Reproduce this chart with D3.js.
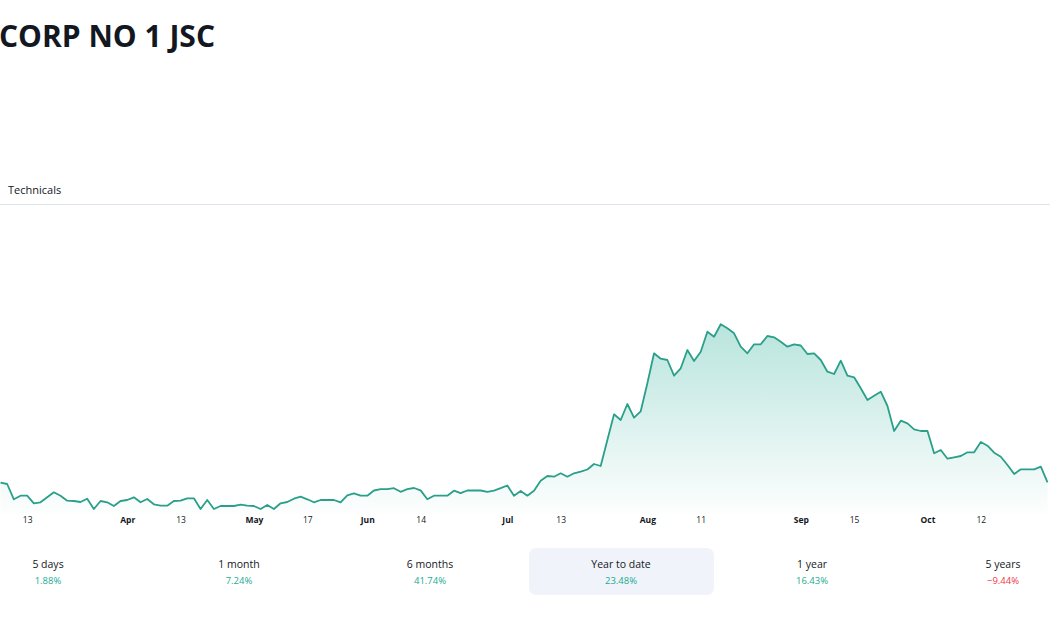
<!DOCTYPE html>
<html>
<head>
<meta charset="utf-8">
<script src="https://cdn.jsdelivr.net/npm/d3@7"></script>
<style>
  html, body { margin: 0; padding: 0; background: #ffffff; }
  svg { display: block; }
</style>
</head>
<body>
<svg id="chart" width="1050" height="630"></svg>
<script>
// ---- data ----
const title = "CORP NO 1 JSC";
const tabLabel = "Technicals";

// daily closing prices (one per trading session)
const prices = [
  11.73, 11.60, 10.07, 10.43, 10.43, 9.67, 9.77, 10.27, 10.77, 10.43,
  9.93, 9.90, 9.80, 10.13, 9.10, 9.90, 9.77, 9.40, 9.90, 10.00,
  10.27, 9.77, 10.10, 9.57, 9.43, 9.43, 9.90, 9.93, 10.17, 10.17,
  9.10, 10.00, 9.10, 9.40, 9.40, 9.40, 9.53, 9.43, 9.40, 9.10,
  9.50, 9.10, 9.67, 9.80, 10.13, 10.33, 10.07, 9.77, 10.00, 10.00,
  10.00, 9.77, 10.47, 10.67, 10.43, 10.43, 10.95, 11.08, 11.08, 11.18,
  10.82, 11.08, 11.20, 10.96, 10.07, 10.43, 10.43, 10.43, 10.93, 10.68,
  10.95, 10.97, 10.95, 10.82, 10.93, 11.18, 11.45, 10.43, 10.90, 10.43,
  10.93, 11.93, 12.40, 12.33, 12.67, 12.33, 12.67, 12.83, 13.05, 13.60,
  13.40, 16.00, 18.57, 18.00, 19.60, 18.23, 18.87, 21.67, 24.67, 24.13,
  24.00, 22.43, 23.17, 25.00, 23.90, 24.83, 26.83, 26.33, 27.57, 27.17,
  26.67, 25.33, 24.67, 25.57, 25.57, 26.40, 26.27, 25.83, 25.33, 25.57,
  25.45, 24.60, 24.67, 24.00, 22.83, 22.60, 23.93, 22.43, 22.27, 21.17,
  20.00, 20.43, 20.83, 19.40, 16.90, 17.93, 17.67, 17.07, 16.90, 16.90,
  14.67, 15.00, 14.13, 14.27, 14.40, 14.77, 14.77, 15.80, 15.43, 14.73,
  14.33, 13.50, 12.60, 13.07, 13.07, 13.07, 13.33, 11.77
];

// x-axis tick labels: session index and text (month labels are bold)
const tickIndex = [4, 19, 27, 38, 46, 55, 63, 76, 84, 97, 105, 120, 128, 139, 147];
const tickText  = ["13", "Apr", "13", "May", "17", "Jun", "14", "Jul", "13", "Aug", "11", "Sep", "15", "Oct", "12"];

// performance summary
const perfLabels = ["5 days", "1 month", "6 months", "Year to date", "1 year", "5 years"];
const perfValues = [1.88, 7.24, 41.74, 23.48, 16.43, -9.44];
const perfSelected = "Year to date";

// ---- drawing ----
const svg = d3.select("#chart");
const W = 1050;
const fontFamily = "'Open Sans', 'Noto Sans', sans-serif";
const lineColor = "#2a9f8a";
const upColor = "#22ab94";
const downColor = "#f23645";
const textColor = "#131722";

// title
svg.append("text")
  .attr("x", -1).attr("y", 47)
  .attr("font-family", fontFamily)
  .attr("font-size", 30)
  .attr("font-weight", 700)
  .attr("fill", textColor)
  .text(title);

// tab label + divider
svg.append("text")
  .attr("x", 8).attr("y", 194)
  .attr("font-family", fontFamily)
  .attr("font-size", 11)
  .attr("fill", textColor)
  .text(tabLabel);
svg.append("line")
  .attr("x1", 0).attr("x2", W)
  .attr("y1", 204.5).attr("y2", 204.5)
  .attr("stroke", "#e0e3eb").attr("stroke-width", 1);

// scales
const x = d3.scaleLinear().domain([0, prices.length - 1]).range([0.5, 1047.5]);
const y = d3.scaleLinear().domain([8, 30]).range([520, 300]);
const baseY = 514;

// gradient
const defs = svg.append("defs");
const grad = defs.append("linearGradient")
  .attr("id", "areaGrad")
  .attr("gradientUnits", "userSpaceOnUse")
  .attr("x1", 0).attr("x2", 0)
  .attr("y1", y(d3.max(prices))).attr("y2", baseY);
grad.append("stop").attr("offset", "0%").attr("stop-color", upColor).attr("stop-opacity", 0.32);
grad.append("stop").attr("offset", "100%").attr("stop-color", upColor).attr("stop-opacity", 0.01);

const area = d3.area()
  .x((d, i) => x(i))
  .y0(baseY)
  .y1(d => y(d));
const line = d3.line()
  .x((d, i) => x(i))
  .y(d => y(d));

svg.append("path")
  .datum(prices)
  .attr("d", area)
  .attr("fill", "url(#areaGrad)");

svg.append("path")
  .datum(prices)
  .attr("d", line)
  .attr("fill", "none")
  .attr("stroke", lineColor)
  .attr("stroke-width", 1.8)
  .attr("stroke-linejoin", "round");

// x axis labels
const months = new Set(["Jan","Feb","Mar","Apr","May","Jun","Jul","Aug","Sep","Oct","Nov","Dec"]);
const xAxis = d3.axisBottom(x)
  .tickValues(tickIndex)
  .tickSize(0)
  .tickPadding(0)
  .tickFormat((d, i) => tickText[i]);
const gx = svg.append("g")
  .attr("transform", "translate(0,517)")
  .call(xAxis);
gx.select(".domain").remove();
gx.selectAll("text")
  .attr("dy", "0.71em")
  .attr("font-family", fontFamily)
  .attr("font-size", 8.5)
  .attr("fill", textColor)
  .attr("font-weight", (d, i) => months.has(tickText[i]) ? 700 : 400);

// performance row
const px = d3.scalePoint().domain(perfLabels).range([48, 1003]);
const perf = svg.append("g");
perf.append("rect")
  .attr("x", px(perfSelected) - 92)
  .attr("y", 548)
  .attr("width", 185)
  .attr("height", 47)
  .attr("rx", 7)
  .attr("fill", "#f0f3fa");
const cells = perf.selectAll("g.cell")
  .data(perfLabels)
  .join("g")
  .attr("class", "cell")
  .attr("transform", d => `translate(${px(d)},0)`);
cells.append("text")
  .attr("y", 568)
  .attr("text-anchor", "middle")
  .attr("font-family", fontFamily)
  .attr("font-size", 10.5)
  .attr("fill", textColor)
  .text(d => d);
cells.append("text")
  .attr("y", 584)
  .attr("text-anchor", "middle")
  .attr("font-family", fontFamily)
  .attr("font-size", 9.5)
  .attr("fill", (d, i) => perfValues[i] >= 0 ? upColor : downColor)
  .text((d, i) => (perfValues[i] < 0 ? "\u2212" : "") + Math.abs(perfValues[i]).toFixed(2) + "%");
</script>
</body>
</html>
